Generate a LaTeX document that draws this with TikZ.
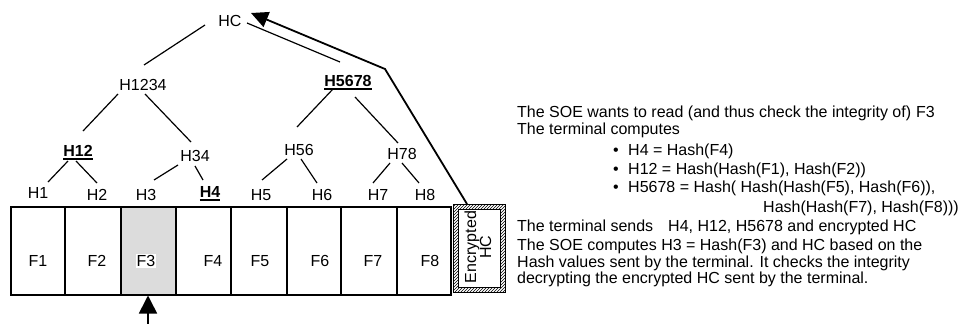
\documentclass[tikz,border=0pt]{standalone}
\usepackage{fontspec}
\setmainfont{Liberation Sans}
\usetikzlibrary{arrows.meta,patterns}
\newcommand\hbu[1]{\setbox0=\hbox{\textbf{#1}}\rlap{\rule[-3pt]{\wd0}{1.8pt}}\box0}
\newcommand\tedge[6]{\draw[tline] ([shift={(#2,#3)}]#1.center) -- ([shift={(#5,#6)}]#4.center);}
\begin{document}
\begin{tikzpicture}[x=1pt,y=-1pt,
  lab/.style={font=\fontsize{16}{18}\selectfont, inner sep=0pt, text height=11.5pt, text depth=0pt},
  rtxt/.style={lab, anchor=west},
  tline/.style={line width=1.2pt},
  fbox/.style={draw, line width=1.5pt, minimum height=88pt, inner sep=0pt, anchor=north west},
  bigarrow/.style={line width=1.8pt, -{Triangle[length=17pt,width=16pt]}},
  uparrow/.style={line width=1.6pt, -{Triangle[length=18pt,width=18pt]}}
]
\useasboundingbox (0,0) rectangle (959,324);

% file boxes
\node[fbox, minimum width=54pt] (box1) at (10,206) {};
\node[fbox, minimum width=56pt] (box2) at (64,206) {};
\node[fbox, minimum width=55pt, fill={rgb,255:red,220;green,220;blue,220}] (box3) at (120,206) {};
\node[fbox, minimum width=55pt] (box4) at (175,206) {};
\node[fbox, minimum width=56pt] (box5) at (230,206) {};
\node[fbox, minimum width=54pt] (box6) at (286,206) {};
\node[fbox, minimum width=56pt] (box7) at (340,206) {};
\node[fbox, minimum width=54pt] (box8) at (396,206) {};

\node[lab] (fl1) at (38,261) {F1};
\node[lab] (fl2) at (97,261) {F2};
\node[lab, fill=white, inner sep=1pt] (fl3) at (146,261) {F3};
\node[lab] (fl4) at (213,261) {F4};
\node[lab] (fl5) at (260,261) {F5};
\node[lab] (fl6) at (320,261) {F6};
\node[lab] (fl7) at (373,261) {F7};
\node[lab] (fl8) at (430,261) {F8};

% encrypted HC box
\node[draw, line width=0.8pt, pattern=north east lines, minimum width=52pt, minimum height=88pt, inner sep=0pt, anchor=north west] (enc) at (453,204) {};
\node[draw, line width=0.6pt, fill=white, minimum width=42pt, minimum height=78pt, inner sep=0pt] (encin) at (enc.center) {};
\node[rotate=90, align=center, font=\fontsize{16}{15}\selectfont, inner sep=0pt] (enctxt) at (478,247) {Encrypted\\HC};

% tree labels
\node[lab] (HC) at (230,21) {HC};
\node[lab] (H1234) at (143,85) {H1234};
\node[lab] (H5678) at (348,81) {\hbu{H5678}};
\node[lab] (H12) at (78,151) {\hbu{H12}};
\node[lab] (H34) at (195,156) {H34};
\node[lab] (H56) at (299,150) {H56};
\node[lab] (H78) at (402,154) {H78};
\node[lab] (H1) at (38,193) {H1};
\node[lab] (H2) at (97,195) {H2};
\node[lab] (H3) at (146,195) {H3};
\node[lab] (H4) at (210,192) {\hbu{H4}};
\node[lab] (H5) at (261,195) {H5};
\node[lab] (H6) at (322,195) {H6};
\node[lab] (H7) at (378,195) {H7};
\node[lab] (H8) at (425,195) {H8};

% tree edges
\tedge{HC}{-25}{4}{H1234}{1}{-20}
\tedge{HC}{17}{2}{H5678}{-8}{-19}
\tedge{H1234}{-25}{9}{H12}{5}{-20}
\tedge{H1234}{2}{9}{H34}{-4}{-14}
\tedge{H5678}{-15}{8}{H56}{-2}{-23}
\tedge{H5678}{7}{16}{H78}{-4}{-11}
\tedge{H12}{-10}{10}{H1}{10}{-11}
\tedge{H12}{-2}{10}{H2}{0}{-12}
\tedge{H34}{-17}{9}{H3}{8}{-15}
\tedge{H34}{0}{10}{H4}{-7}{-12}
\tedge{H56}{-12}{9}{H5}{1}{-15}
\tedge{H56}{2}{9}{H6}{-5}{-12}
\tedge{H78}{-12}{9}{H7}{-5}{-12}
\tedge{H78}{0}{9}{H8}{-6}{-12}

% arrows
\coordinate (bend) at (385,69);
\draw[bigarrow] ([xshift=14pt]enc.north west) -- (bend) -- ([shift={(21,-8)}]HC.center);
\coordinate (src) at (148,324);
\draw[uparrow] (src) -- (src |- box3.south);

% right text
\node[rtxt] (t1) at (517,112) {The SOE wants to read (and thus check the integrity of)\hspace{5pt}F3};
\node[rtxt] (t2) at (517,129) {The terminal computes};
\node[rtxt] (bl1) at (613,150) {•};
\node[rtxt] (t3) at (628,150) {H4 = Hash(F4)};
\node[rtxt] (bl2) at (613,169) {•};
\node[rtxt] (t4) at (628,169) {H12 = Hash(Hash(F1), Hash(F2))};
\node[rtxt] (bl3) at (613,187) {•};
\node[rtxt] (t5) at (628,187) {H5678 = Hash( Hash(Hash(F5), Hash(F6)),};
\node[rtxt] (t6) at (763,207) {Hash(Hash(F7), Hash(F8)))};
\node[rtxt] (t7) at (517,226) {The terminal sends\hspace{15pt}H4, H12, H5678 and encrypted HC};
\node[rtxt] (t8) at (517,245) {The SOE computes H3 = Hash(F3) and HC based on the};
\node[rtxt] (t9) at (517,262) {Hash values sent by the terminal. It checks the integrity};
\node[rtxt] (t10) at (517,278) {decrypting the encrypted HC sent by the terminal.};
\end{tikzpicture}
\end{document}
